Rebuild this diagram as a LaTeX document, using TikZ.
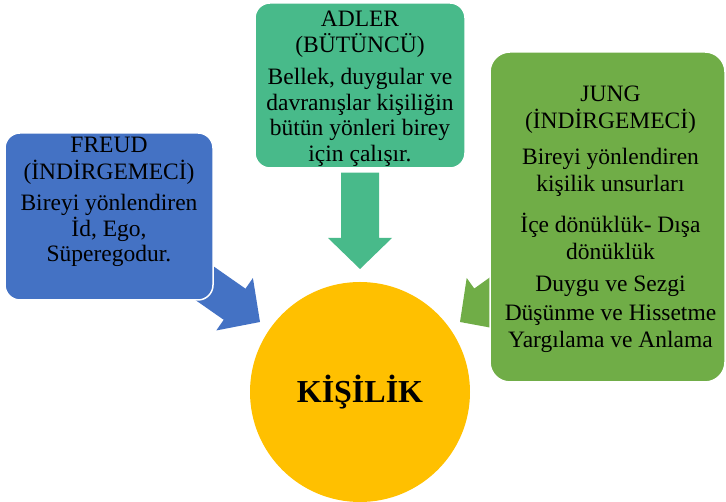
\documentclass[tikz,border=0pt]{standalone}
\usepackage{fontspec}
\setmainfont{Liberation Serif}
\usetikzlibrary{positioning,calc,backgrounds}
\definecolor{freudblue}{RGB}{68,114,196}
\definecolor{adlergreen}{RGB}{72,186,138}
\definecolor{junggreen}{RGB}{112,173,71}
\definecolor{selfyellow}{RGB}{255,192,0}
\begin{document}
\begin{tikzpicture}[x=1pt, y=1pt, line join=round,
  box/.style={rectangle, rounded corners=15pt, draw=white, line width=1.5pt, inner sep=0pt},
  boxtext/.style={align=center, inner sep=0pt, font=\fontsize{23.5}{26.5}\selectfont}]
\useasboundingbox (0,0) rectangle (726,502);
% Arrow sizes
\def\shaftw{19pt} % half width of the shaft
\def\headw{32pt} % half width of the head
\def\headl{31pt} % length of the head
% Block arrow: colour, tail, tip
\def\blockarrow#1#2#3{
  \coordinate (#2-neck) at ($(#3)!\headl!(#2)$);
  \fill[#1] ($(#2)!\shaftw!90:(#3)$) -- ($(#2-neck)!\shaftw!90:(#3)$)
    -- ($(#2-neck)!\headw!90:(#3)$) -- (#3)
    -- ($(#2-neck)!\headw!-90:(#3)$) -- ($(#2-neck)!\shaftw!-90:(#3)$)
    -- ($(#2)!\shaftw!-90:(#3)$) -- cycle;
}
% Boxes
\node[box, fill=freudblue, minimum width=208pt, minimum height=167pt] (freud) at (109,285.5) {};
\node[box, fill=adlergreen, minimum width=210pt, minimum height=165pt] (adler) at (360,416.5) {};
\node[box, fill=junggreen, minimum width=235pt, minimum height=330pt, rounded corners=20pt] (jung) at (607.5,285) {};
% Centre circle
\node[circle, fill=selfyellow, minimum size=220pt, inner sep=0pt,
  font=\fontsize{32}{38}\selectfont\bfseries, text height=21pt, text depth=0pt] (kisilik) at (360,110) {KİŞİLİK};
% Texts
\node[boxtext, below=5pt of freud.north] (freud-text)
  {FREUD\\(İNDİRGEMECİ)\\[5pt]Bireyi yönlendiren\\[-1pt]İd, Ego,\\[-1pt]Süperegodur.};
\node[boxtext, below=9pt of adler.north] (adler-text)
  {ADLER\\[-1pt](BÜTÜNCÜ)\\[6pt]Bellek, duygular ve\\[-1pt]davranışlar kişiliğin\\[-1pt]bütün yönleri birey\\[-1pt]için çalışır.};
\node[boxtext, below=34pt of jung.north, xshift=3pt] (jung-text)
  {JUNG\\[1pt](İNDİRGEMECİ)\\[9pt]Bireyi yönlendiren\\[1pt]kişilik unsurları\\[14pt]İçe dönüklük- Dışa\\[1pt]dönüklük\\[5pt]Duygu ve Sezgi\\[3pt]Düşünme ve Hissetme\\[0pt]Yargılama ve Anlama};
% Arrow ends
\coordinate (freud-tail) at (freud.center);
\coordinate (freud-tip) at (260,180);
\coordinate (adler-tail) at ([yshift=-4pt]adler.south);
\coordinate (adler-tip) at (360,233);
\coordinate (jung-tail) at (jung.center);
\coordinate (jung-tip) at (460,180);
% Arrows behind the boxes
\begin{pgfonlayer}{background}
\blockarrow{freudblue}{freud-tail}{freud-tip}
\blockarrow{adlergreen}{adler-tail}{adler-tip}
\blockarrow{junggreen}{jung-tail}{jung-tip}
\end{pgfonlayer}
\end{tikzpicture}
\end{document}
